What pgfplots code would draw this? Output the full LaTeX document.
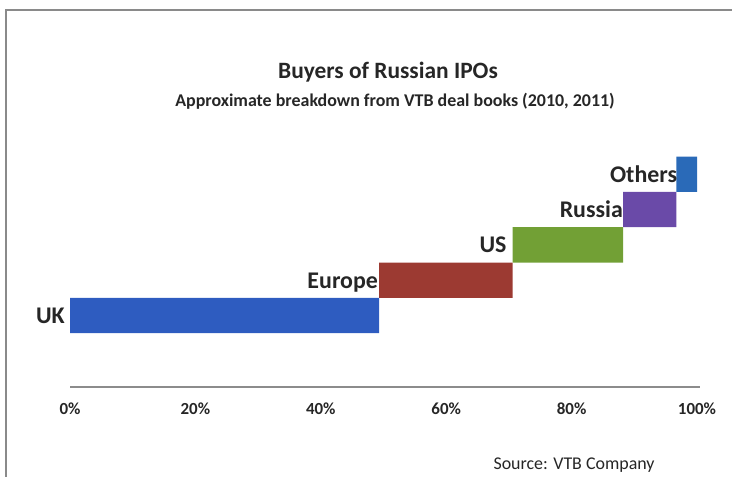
\documentclass[border=0pt]{standalone}
\usepackage{pgfplots}
\pgfplotsset{compat=1.18}
\usepackage{fontspec}
\setmainfont{Carlito}
\definecolor{cUK}{HTML}{2E5CC0}
\definecolor{cEU}{HTML}{9C3A32}
\definecolor{cUS}{HTML}{72A035}
\definecolor{cRU}{HTML}{6A4AA8}
\definecolor{cOT}{HTML}{2A6AB8}
\definecolor{frame}{HTML}{8A8A8A}
\begin{document}
\begin{tikzpicture}[x=1bp,y=1bp]
\path[use as bounding box] (0,0) rectangle (732,477);
\draw[frame, line width=1.5bp] (6,0) -- (6,467) -- (732,467);
\node[font=\fontsize{23.5}{28}\selectfont\bfseries, text=black!85] at (388,405) {Buyers of Russian IPOs};
\node[font=\fontsize{18}{21}\selectfont\bfseries, text=black!85] at (395,376) {Approximate breakdown from VTB deal books (2010, 2011)};
\node[font=\fontsize{18}{21}\selectfont, text=black!85, anchor=west] at (490,12) {Source: VTB Company};
\begin{axis}[
  at={(70bp,90bp)}, anchor=south west,
  scale only axis, width=627bp, height=247bp,
  xmin=0, xmax=100, ymin=-1.025, ymax=5.97,
  clip=false,
  axis x line*=bottom, axis y line=none,
  x axis line style={draw=black!45, line width=1.3bp, -, shorten >=-3bp},
  xtick={0,20,40,60,80,100},
  xticklabels={0\%,20\%,40\%,60\%,80\%,100\%},
  xtick style={draw=none},
  xticklabel style={font=\fontsize{17}{20}\selectfont\bfseries, text=black!85, yshift=-12bp},
  /pgf/number format/assume math mode=true,
  ytick=\empty,
]
\addplot[fill=cUK, draw=none] coordinates {(0,0.5) (49.3,0.5) (49.3,1.5) (0,1.5) (0,0.5)};
\addplot[fill=cEU, draw=none] coordinates {(49.3,1.5) (70.6,1.5) (70.6,2.5) (49.3,2.5) (49.3,1.5)};
\addplot[fill=cUS, draw=none] coordinates {(70.6,2.5) (88.2,2.5) (88.2,3.5) (70.6,3.5) (70.6,2.5)};
\addplot[fill=cRU, draw=none] coordinates {(88.2,3.5) (96.7,3.5) (96.7,4.5) (88.2,4.5) (88.2,3.5)};
\addplot[fill=cOT, draw=none] coordinates {(96.7,4.5) (100,4.5) (100,5.5) (96.7,5.5) (96.7,4.5)};
\begin{scope}[every node/.style={font=\fontsize{24}{28}\selectfont\bfseries, text=black!85, anchor=base east, inner sep=0pt, yshift=-8bp}]
\node[xshift=-5bp] at (axis cs:0,1) {UK};
\node[xshift=-1bp] at (axis cs:49.3,2) {Europe};
\node[xshift=-6bp] at (axis cs:70.6,3) {US};
\node at (axis cs:88.2,4) {Russia};
\node[xshift=1bp] at (axis cs:96.7,5) {Others};
\end{scope}
\end{axis}
\end{tikzpicture}
\end{document}
